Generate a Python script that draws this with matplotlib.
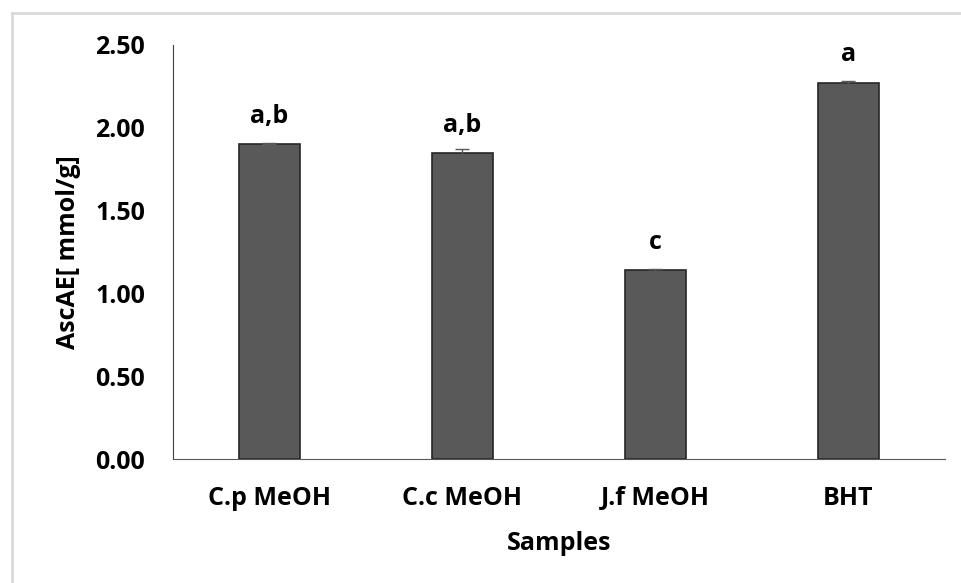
import matplotlib.pyplot as plt
from matplotlib.lines import Line2D

# data
samples = ['C.p MeOH', 'C.c MeOH', 'J.f MeOH', 'BHT']
ascae = [1.903, 1.849, 1.143, 2.273]
errors = [0.003, 0.02, 0.005, 0.01]
letters = ['a,b', 'a,b', 'c', 'a']

plt.rcParams['font.family'] = ['Open Sans', 'DejaVu Sans']

fig = plt.figure(figsize=(9.62, 5.83), dpi=100)
ax = fig.add_axes([0.1798, 0.2125, 0.8025, 0.7105])

x = list(range(len(samples)))
ax.bar(x, ascae, width=0.32, color='#595959', edgecolor='#262626', linewidth=1.2,
       yerr=errors, error_kw=dict(ecolor='#595959', elinewidth=1, capsize=5, capthick=1))

# significance letters sit just above each bar
for xi, v, lab in zip(x, ascae, letters):
    ax.text(xi, v + 0.127, lab, ha='center', va='baseline', fontsize=18, fontweight='bold')

ticks = [0, 0.5, 1.0, 1.5, 2.0, 2.5]
ax.set_xlim(-0.5, len(samples) - 0.5)
ax.set_ylim(0, 2.5)
ax.set_yticks(ticks)
ax.set_yticklabels([f'{t:.2f}' for t in ticks], fontsize=18, fontweight='bold')
ax.set_xticks(x)
ax.set_xticklabels(samples, fontsize=18, fontweight='bold')
ax.tick_params(axis='y', length=0, pad=20)
ax.tick_params(axis='x', length=0, pad=19)

for s in ['top', 'right']:
    ax.spines[s].set_visible(False)
ax.spines['left'].set_color('#404040')
ax.spines['bottom'].set_color('#595959')

ax.set_xlabel('Samples', fontsize=18, fontweight='bold', labelpad=15)
ax.set_ylabel('AscAE[ mmol/g]', fontsize=18, fontweight='bold', labelpad=10)

# light grey chart-area frame (left and top)
fig.add_artist(Line2D([12 / 962, 12 / 962], [0, 1 - 13 / 583], transform=fig.transFigure,
                      color='#d9d9d9', linewidth=2))
fig.add_artist(Line2D([12 / 962, 1], [1 - 13 / 583, 1 - 13 / 583], transform=fig.transFigure,
                      color='#d9d9d9', linewidth=2))

fig.savefig('out.png', dpi=100)
